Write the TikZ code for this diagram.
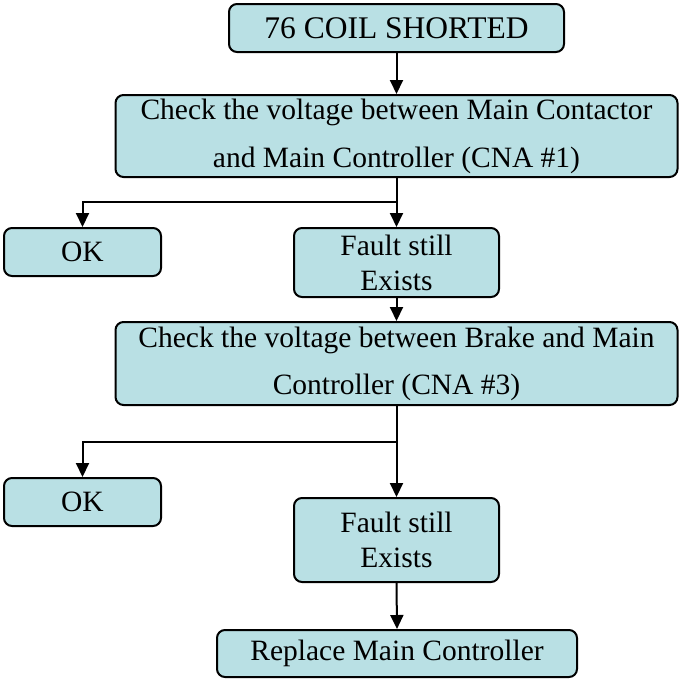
\documentclass[tikz,border=0pt]{standalone}
\usepackage{fontspec}
\setmainfont{Liberation Serif}
\usetikzlibrary{arrows.meta}
\definecolor{boxfill}{HTML}{B9E0E4}
\begin{document}
\begin{tikzpicture}[x=1pt,y=-1pt,
  box/.style={draw=black, line width=2pt, fill=boxfill, rounded corners=8pt,
    inner sep=0pt, align=center, font=\fontsize{29.5}{35}\selectfont},
  conn/.style={line width=2pt, -{Triangle[width=13pt,length=14pt]}},
  link/.style={line width=2pt}]
\useasboundingbox (0,0) rectangle (679,678);
\node[box, minimum width=335pt, minimum height=48pt, font=\fontsize{31.5}{35}\selectfont] (b1) at (396.5,28) {76 COIL SHORTED};
\node[box, minimum width=562pt, minimum height=82pt] (b2) at (396.5,136)
  {Check the voltage between Main Contactor\\[13pt]and Main Controller (CNA \#1)};
\node[box, minimum width=157pt, minimum height=48pt] (ok1) at (82.5,252) {OK};
\node[box, minimum width=205pt, minimum height=69pt] (f1) at (396.5,262.5) {Fault still\\Exists};
\node[box, minimum width=562pt, minimum height=83pt] (b3) at (396.5,363.5)
  {Check the voltage between Brake and Main\\[12pt]Controller (CNA \#3)};
\node[box, minimum width=157pt, minimum height=48pt] (ok2) at (82.5,502) {OK};
\node[box, minimum width=205pt, minimum height=84pt] (f2) at (396.5,540) {Fault still\\Exists};
\node[box, minimum width=360pt, minimum height=47pt] (r) at (397,653.5) {Replace Main Controller};
\coordinate (j1) at (396.5,202);
\coordinate (j2) at (396.5,442);
\draw[conn] (b1.south) -- (b2.north);
\draw[link] (b2.south) -- (j1);
\draw[conn] (j1) -| (ok1.north);
\draw[conn] (j1) -- (f1.north);
\draw[conn] (f1.south) -- (b3.north);
\draw[link] (b3.south) -- (j2);
\draw[conn] (j2) -| (ok2.north);
\draw[conn] (j2) -- (f2.north);
\draw[conn] (f2.south) -- (r.north);
\end{tikzpicture}
\end{document}
